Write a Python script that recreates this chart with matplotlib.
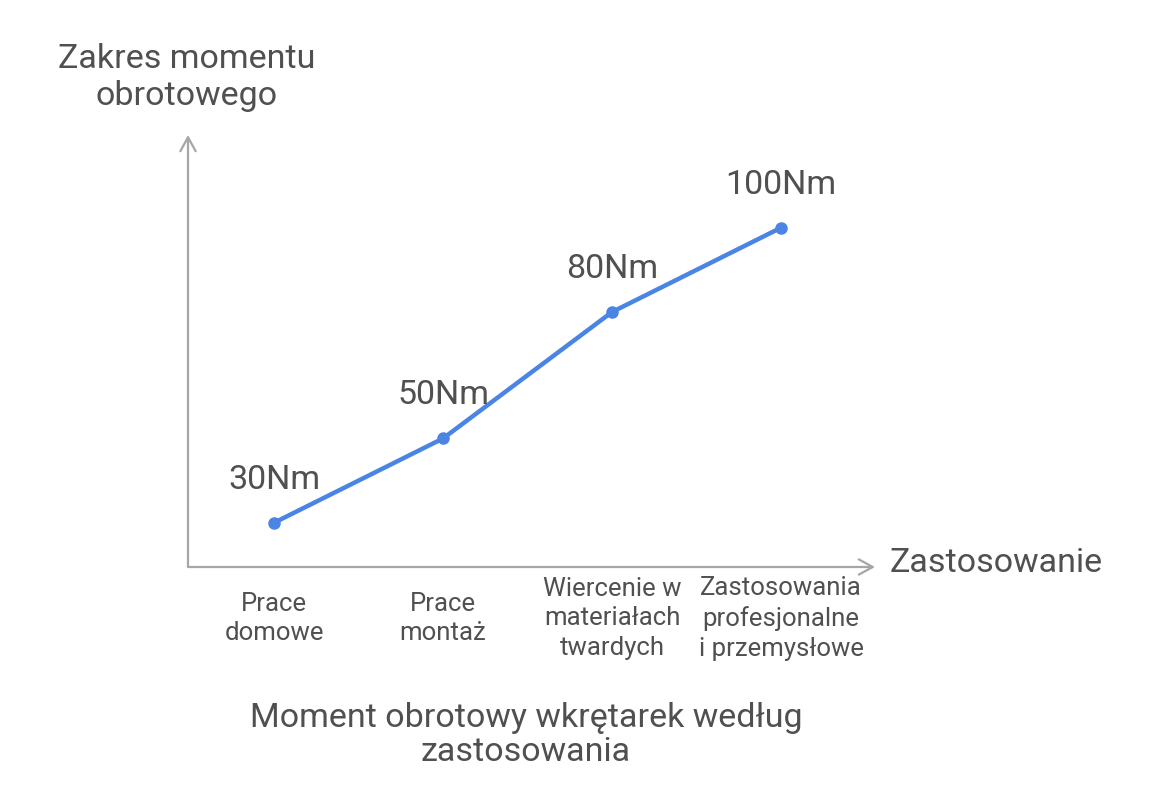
import matplotlib
matplotlib.use("Agg")
import matplotlib.pyplot as plt

categories = ["Prace\ndomowe", "Prace\nmontaż", "Wiercenie w\nmateriałach\ntwardych",
              "Zastosowania\nprofesjonalne\ni przemysłowe"]
torque = [30, 50, 80, 100]
torque_labels = ["30Nm", "50Nm", "80Nm", "100Nm"]

plt.rcParams['font.family'] = ['Roboto', 'DejaVu Sans']
text_col = '#505050'
axis_col = '#a6a6a6'
line_col = '#4a84e4'
fw = 'normal'

fig = plt.figure(figsize=(11.6, 7.92), dpi=100)
ax = fig.add_axes([188/1160, 1-567/792, (875-188)/1160, (567-135)/792])
ax.set_xlim(-0.509, 3.556)
ax.set_ylim(19.5, 122)
for s in ax.spines.values():
    s.set_visible(False)
ax.set_xticks([])
ax.set_yticks([])
ax.patch.set_alpha(0)

# axis arrows
arrow = dict(arrowstyle='->,head_length=1.0,head_width=0.55', color=axis_col, lw=1.6,
             shrinkA=0, shrinkB=0)
ax.annotate('', xy=(1, 0), xytext=(0, 0), xycoords='axes fraction', arrowprops=arrow)
ax.annotate('', xy=(0, 1), xytext=(0, 0), xycoords='axes fraction', arrowprops=arrow)

x = list(range(len(torque)))
ax.plot(x, torque, color=line_col, lw=3.2, marker='o', ms=8, solid_capstyle='round', clip_on=False)

for i, (v, lab) in enumerate(zip(torque, torque_labels)):
    ax.annotate(lab, (i, v), xytext=(0, 31), textcoords='offset points', ha='center',
                va='center', fontsize=24.5, color=text_col, fontweight=fw)

for i, lab in enumerate(categories):
    ax.annotate(lab, (i, 0), xycoords=('data', 'axes fraction'), xytext=(0, -37),
                textcoords='offset points', ha='center', va='center', fontsize=18.5,
                color=text_col, linespacing=1.3, fontweight=fw)

fig.text(890/1160, 1-563/792, 'Zastosowanie', ha='left', va='center', fontsize=24.5,
         color=text_col, fontweight=fw)
fig.text(187/1160, 1-78/792, 'Zakres momentu\nobrotowego', ha='center', va='center',
         fontsize=24.5, color=text_col, linespacing=1.2, fontweight=fw)
fig.text(526/1160, 1-735/792, 'Moment obrotowy wkrętarek według\nzastosowania', ha='center',
         va='center', fontsize=24.5, color=text_col, linespacing=1.1, fontweight=fw)

fig.savefig('out.png', dpi=100, facecolor='white')
